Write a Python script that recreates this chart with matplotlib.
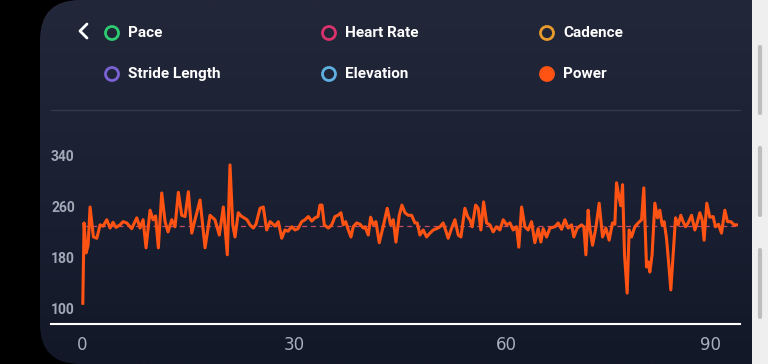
import numpy as np
import matplotlib.pyplot as plt
from matplotlib.patches import Circle, FancyBboxPatch, Rectangle
from matplotlib.colors import LinearSegmentedColormap
from matplotlib.transforms import blended_transform_factory, ScaledTranslation

# power over time (minutes)
minutes = [
    0.1, 0.28, 0.57, 0.85, 1.13, 1.6, 2.08, 2.55, 2.97, 3.49, 3.96, 4.38, 4.8,
    5.37, 5.8, 6.32, 7.03, 7.35, 7.74, 8.2, 8.63, 9.05, 9.62, 10.04, 10.4,
    10.79, 11.27, 11.74, 12.16, 12.69, 13.15, 13.62, 14.1, 14.57, 15.04,
    15.52, 15.98, 16.69, 17.4, 18.1, 18.8, 19.42, 19.99, 20.55, 20.93, 21.32,
    21.64, 22.1, 22.49, 22.91, 23.34, 23.76, 24.23, 24.61, 25.18, 25.64,
    26.12, 26.59, 26.83, 27.3, 27.77, 28.25, 28.71, 29.14, 29.66, 30.13,
    30.55, 31.08, 31.54, 32.01, 32.49, 32.96, 33.38, 33.66, 33.95, 34.27,
    34.84, 35.32, 35.79, 36.21, 36.63, 36.96, 37.3, 37.67, 38.05, 38.37,
    38.85, 39.32, 39.79, 40.03, 40.5, 40.83, 41.2, 41.58, 42.05, 42.62,
    43.18, 43.66, 44.03, 44.41, 44.88, 45.26, 45.69, 46.15, 46.63, 47.1,
    47.43, 47.81, 48.27, 48.75, 49.22, 49.69, 50.17, 50.64, 51.1, 51.49,
    51.8, 52.3, 52.76, 53.23, 53.61, 54.17, 54.55, 54.88, 55.2, 55.69,
    56.05, 56.43, 56.82, 57.24, 57.71, 58.17, 58.65, 59.12, 59.59, 60.07,
    60.54, 61.0, 61.48, 61.8, 62.19, 62.66, 63.12, 63.6, 64.07, 64.54,
    64.92, 65.25, 65.73, 66.2, 66.9, 67.37, 67.85, 68.32, 68.79, 69.26,
    69.59, 70.06, 70.68, 71.0, 71.29, 71.61, 71.85, 72.23, 72.7, 73.17,
    73.65, 74.12, 74.58, 75.06, 75.39, 75.63, 76.0, 76.24, 76.48, 76.76,
    77.13, 77.41, 77.75, 78.22, 78.69, 79.17, 79.49, 79.87, 80.1, 80.34,
    80.66, 81.05, 81.43, 81.75, 82.08, 82.36, 82.7, 83.03, 83.31, 83.64,
    83.98, 84.35, 84.72, 85.05, 85.39, 85.76, 86.24, 86.71, 87.09, 87.41,
    87.74, 88.02, 88.4, 88.83, 89.3, 89.63, 90.06, 90.48, 90.95, 91.33,
    91.8, 92.26, 92.6,
]
power = [
    109, 235, 188, 200, 260, 213, 211, 232, 230, 240, 227, 236, 228,
    232, 237, 235, 226, 234, 243, 227, 240, 196, 255, 240, 246,
    196, 282, 237, 221, 240, 229, 283, 247, 245, 284,
    219, 240, 271, 196, 247, 240, 216, 260, 185, 326, 232,
    213, 251, 246, 243, 240, 232, 227, 233, 258, 260,
    224, 237, 235, 230, 237, 211, 224, 222, 229, 224,
    226, 237, 240, 245, 238, 243, 245, 263, 263, 232,
    227, 232, 245, 247, 251, 232, 237, 224, 213, 229,
    235, 233, 227, 229, 216, 244, 232, 237, 204, 230,
    258, 232, 240, 205, 247, 263, 251, 247, 247, 235,
    235, 216, 224, 213, 219, 224, 226, 229, 235, 222,
    211, 227, 240, 216, 213, 258, 245, 240, 229, 263,
    258, 224, 268, 235, 232, 221, 229, 224, 240, 232,
    235, 224, 229, 197, 260, 229, 224, 237, 204, 226,
    205, 226, 213, 227, 229, 235, 225, 240, 227, 232,
    213, 227, 232, 229, 185, 255, 227, 200, 227, 266,
    213, 227, 208, 235, 233, 298, 274, 262, 295, 185,
    125, 224, 213, 229, 235, 240, 290, 166, 174, 158,
    185, 266, 243, 255, 232, 237, 211, 169, 130, 185,
    243, 232, 247, 237, 229, 235, 247, 224, 237, 251,
    240, 208, 266, 244, 245, 229, 233, 219, 255, 237,
    237, 232, 232,
]
avg_power = 230

y_ticks = [100, 180, 260, 340]
x_ticks = [0, 30, 60, 90]

legend_rows = [
    [("Pace", "#2ecc71", False), ("Heart Rate", "#d8336b", False), ("Cadence", "#e89a2c", False)],
    [("Stride Length", "#7b62d6", False), ("Elevation", "#5fb0e0", False), ("Power", "#ff5314", True)],
]

W, H = 768, 364
fig = plt.figure(figsize=(W / 100, H / 100), dpi=100)
fig.patch.set_facecolor("black")

# background layer in pixel coordinates
bg = fig.add_axes([0, 0, 1, 1])
bg.set_xlim(0, W)
bg.set_ylim(H, 0)
bg.axis("off")

panel = FancyBboxPatch((40, 0), 780, H, boxstyle="round,pad=0,rounding_size=40",
                       facecolor="none", edgecolor="none")
bg.add_patch(panel)
cmap = LinearSegmentedColormap.from_list("panel", ["#23273a", "#1b2033", "#131828"])
grad = bg.imshow(np.linspace(0, 1, 256).reshape(-1, 1), cmap=cmap, aspect="auto",
                 extent=(40, 760, H, 0), origin="upper", zorder=0)
grad.set_clip_path(panel)

# right strip with scrollbar
bg.add_patch(Rectangle((752, 0), 16, H, facecolor="#efefef", edgecolor="none", zorder=1))
for y0, y1 in [(47, 113), (148, 215), (250, 317)]:
    bg.plot([760, 760], [y0, y1], color="#bdbdbd", lw=3, solid_capstyle="round", zorder=2)

# back chevron
bg.plot([87, 80, 87], [24, 31, 38], color="white", lw=2, solid_capstyle="round", zorder=3)

# legend
col_x = [112, 329, 547]
row_y = [33, 74]
for r, row in enumerate(legend_rows):
    for c, (name, color, filled) in enumerate(row):
        bg.add_patch(Circle((col_x[c], row_y[r]), 6.5, facecolor=color if filled else "none",
                            edgecolor=color, lw=2, zorder=3))
        bg.text(col_x[c] + 16, row_y[r], name, color="white", fontsize=11,
                fontweight="bold", family=["Roboto", "DejaVu Sans"], va="center", ha="left", zorder=3)

# separator
bg.plot([51, 740], [110, 110], color="#33384b", lw=1, zorder=2)

# data axes: x 51..740 px, y 150..324 px
ax = fig.add_axes([51 / W, (H - 324) / H, (740 - 51) / W, (324 - 150) / H])
ax.patch.set_alpha(0)
ax.set_xlim(-4.4, 93.1)
ax.set_ylim(76.5, 349.4)

ax.hlines(avg_power, minutes[0], minutes[-1], colors="#c04c66", lw=0.9,
          linestyles=(0, (4, 3)), zorder=2)
ax.plot(minutes, power, color="#ff5314", lw=2.2, zorder=3, solid_joinstyle="round")

for s in ["top", "left", "right"]:
    ax.spines[s].set_visible(False)
ax.spines["bottom"].set_color("white")
ax.spines["bottom"].set_linewidth(1.5)

ax.set_yticks([])
trans = blended_transform_factory(ax.transAxes, ax.transData)
for v in y_ticks:
    ax.text(0.0, v - 2, str(v), transform=trans, color="#a3a8b6", fontsize=10, fontweight="bold",
            fontstretch="condensed", family=["Roboto", "DejaVu Sans"], ha="left", va="center")

ax.set_xticks(x_ticks)
ax.set_xticklabels([str(v) for v in x_ticks])
ax.tick_params(axis="x", length=0, pad=9, labelsize=12, labelcolor="#a9aebb")
# the app pulls the last label in a little
last = ax.get_xticklabels()[-1]
last.set_transform(last.get_transform() + ScaledTranslation(-0.08, 0, fig.dpi_scale_trans))

fig.savefig("out.png", dpi=100, facecolor=fig.get_facecolor())
